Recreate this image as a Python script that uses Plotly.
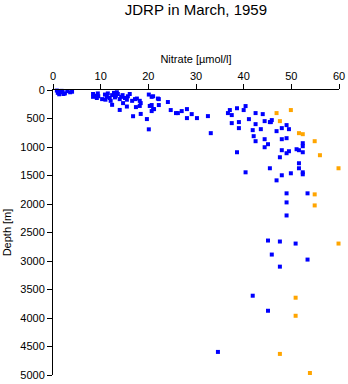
import plotly.graph_objects as go

# Blue series: (nitrate µmol/l, depth m)
blue_nitrate = [
    0.8, 1.2, 1.5, 1.0, 2.0, 2.5, 3.0, 3.6, 4.0, 1.3, 2.2, 1.8,
    8.4, 8.4, 8.8, 9.2, 9.4, 9.5, 10.3, 10.9, 11.3, 11.5, 11.9, 12.4, 12.8, 13.0,
    13.2, 13.6, 14.0, 14.3, 12.1, 11.0, 13.4, 14.6, 15.1, 15.5, 15.7, 16.1, 16.6,
    17.2, 17.6, 18.2, 18.4, 20.1, 20.7, 21.0, 22.0, 22.2,
    12.4, 14.0, 14.7, 15.5, 16.8, 17.4, 18.2, 18.4, 19.7, 20.1, 20.3, 21.0, 20.7,
    22.2, 21.2, 20.7,
    24.1, 24.7, 25.8, 26.2, 27.0, 28.1, 28.1, 29.1, 30.2, 32.5, 33.1,
    37.1, 36.7, 37.5, 38.6, 40.4, 40.0, 41.1, 39.0, 39.0, 37.5, 38.6, 40.4,
    42.5, 44.0, 41.9, 42.5, 43.6, 44.4, 45.5, 45.9, 42.1, 42.5, 44.4, 45.1, 44.4,
    45.7, 46.9, 49.0, 48.0, 49.5, 48.0, 49.0, 48.0, 49.0, 49.5, 47.6, 45.5, 46.9,
    48.0, 49.9, 51.1, 51.6, 52.4, 52.4, 52.4, 51.6, 51.6, 52.4, 52.4, 49.0, 49.0,
    49.0, 53.4,
    45.1, 47.6, 50.9, 45.9, 53.4, 47.6, 41.9, 45.1, 34.6,
]
blue_depth = [
    10, 20, 40, 50, 30, 60, 20, 40, 30, 75, 70, 15,
    70, 120, 100, 140, 60, 110, 160, 80, 120, 60, 140, 90, 50, 130,
    100, 70, 160, 120, 190, 170, 40, 90, 140, 170, 110, 70, 190,
    160, 150, 190, 230, 80, 120, 110, 150, 160,
    260, 350, 230, 290, 460, 300, 280, 420, 510, 690, 280, 335, 264,
    264, 335, 370,
    211, 352, 405, 405, 370, 335, 493, 423, 493, 458, 757,
    352, 405, 440, 320, 282, 352, 511, 563, 669, 581, 1092, 1444,
    405, 423, 704, 599, 687, 546, 563, 528, 810, 898, 863, 951, 1004,
    563, 722, 616, 669, 687, 863, 845, 1056, 1109, 1074, 1180, 1373, 1585,
    1496, 1461, 1039, 1056, 933, 986, 1092, 1285, 1373, 1444, 1479, 1813, 1972,
    2201, 1813,
    2641, 2658, 2694, 2887, 2975, 3099, 3609, 3873, 4595,
]

# Orange series
orange_nitrate = [47.6, 46.9, 49.9, 51.6, 52.4, 54.9, 56.0, 59.9, 54.9, 54.9,
                  59.9, 50.9, 50.9, 47.6, 53.9]
orange_depth = [546, 405, 352, 757, 775, 898, 1144, 1373, 1831, 2025,
                2694, 3644, 3961, 4630, 4965]

x_ticks = [0, 10, 20, 30, 40, 50, 60]
y_ticks = [0, 500, 1000, 1500, 2000, 2500, 3000, 3500, 4000, 4500, 5000]

FONT = "Liberation Sans, Arial, sans-serif"

fig = go.Figure()
fig.add_trace(go.Scatter(x=blue_nitrate, y=blue_depth, mode="markers",
                         marker=dict(symbol="square", size=4, color="#0000ff",
                                     line=dict(width=0)),
                         showlegend=False, cliponaxis=False))
fig.add_trace(go.Scatter(x=orange_nitrate, y=orange_depth, mode="markers",
                         marker=dict(symbol="square", size=4, color="#ffa500",
                                     line=dict(width=0)),
                         showlegend=False, cliponaxis=False))

axis_common = dict(showline=True, linecolor="black", linewidth=1,
                   ticks="outside", ticklen=5, tickwidth=1, tickcolor="black",
                   showgrid=False, zeroline=False, automargin=False,
                   tickfont=dict(family=FONT, size=11, color="black"))

fig.update_layout(
    template="none",
    width=348, height=384,
    margin=dict(l=53, r=9, t=90, b=9, autoexpand=False),
    paper_bgcolor="white", plot_bgcolor="white",
    font=dict(family=FONT, color="black"),
    title=dict(text="JDRP in March, 1959", x=0.563, xanchor="center",
               y=0.975, yanchor="middle", yref="container",
               font=dict(family=FONT, size=15, color="black")),
    xaxis=dict(side="top", range=[0, 60], tickvals=x_ticks,
               title=dict(text="Nitrate [µmol/l]",
                          font=dict(family=FONT, size=11), standoff=3),
               **axis_common),
    yaxis=dict(range=[5000, 0], tickvals=y_ticks,
               title=dict(text="Depth [m]",
                          font=dict(family=FONT, size=11), standoff=6),
               **axis_common),
)

fig.write_html("out.html")
